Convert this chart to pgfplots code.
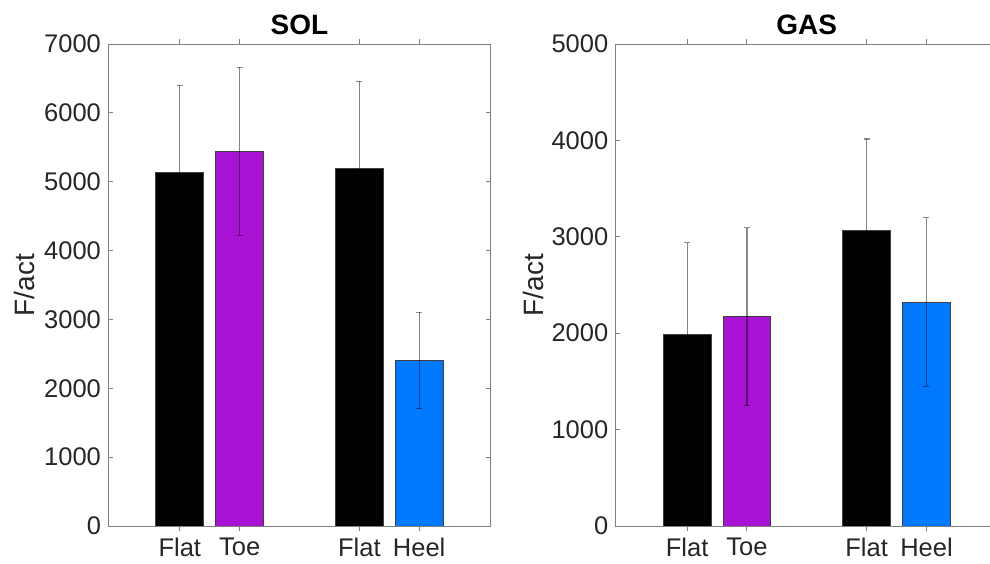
\documentclass[border=0pt]{standalone}
\usepackage{fontspec}
\setmainfont{Liberation Sans}
\usepackage{pgfplots}
\pgfplotsset{compat=1.18}

\definecolor{toecol}{RGB}{168,18,210}
\definecolor{heelcol}{RGB}{0,120,255}
\definecolor{axtext}{RGB}{38,38,38}

\pgfplotsset{
  panel/.style={
    scale only axis, width=191.5pt, height=241pt,
    xmin=-0.2, xmax=6.2, ymin=0,
    xtick={1,2,4,5}, xticklabels={Flat,Toe,Flat,Heel},
    ytick distance=1000,
    tick align=inside, major tick length=2.5pt,
    axis line style={black!50, line width=0.5pt},
    every tick/.style={black!50, line width=0.5pt},
    axis on top,
    ticklabel style={font=\fontsize{12.75}{14}\selectfont, text=axtext},
    /pgf/number format/assume math mode=true,
    /pgf/number format/1000 sep={},
    ylabel={F/act}, ylabel shift=-2pt,
    label style={font=\fontsize{14}{16}\selectfont, text=axtext},
    title style={font=\bfseries\fontsize{14}{16}\selectfont, yshift=-5pt},
    ybar, bar width=0.8, bar shift=0pt,
    anchor=south west,
  },
  eb/.style={
    draw=black!75, line width=0.4pt,
    error bars/.cd, y dir=both, y explicit,
    error bar style={black, opacity=0.45, line width=0.6pt},
    error mark options={black, opacity=0.45, line width=0.6pt, mark size=1.5pt, rotate=90},
  },
}

\begin{document}
\begin{tikzpicture}
\useasboundingbox (0,0) rectangle (495pt,281.5pt);
\clip (0,0) rectangle (495pt,281.5pt);

% SOL
\begin{axis}[panel, at={(54pt,18.5pt)}, ymax=7000, title={SOL}]
  \addplot[fill=black, eb] coordinates {(1,5137) +- (0,1265)};
  \addplot[fill=toecol, eb] coordinates {(2,5442) +- (0,1220)};
  \addplot[fill=black, eb] coordinates {(4,5199) +- (0,1260)};
  \addplot[fill=heelcol, eb] coordinates {(5,2406) +- (0,697)};
\end{axis}

% GAS
\begin{axis}[panel, at={(307.65pt,18.5pt)}, ymax=5000, title={GAS}, ylabel shift=-3pt]
  \addplot[fill=black, eb] coordinates {(1,1989) +- (0,950)};
  \addplot[fill=toecol, eb] coordinates {(2,2172) +- (0,922)};
  \addplot[fill=black, eb] coordinates {(4,3070) +- (0,944)};
  \addplot[fill=heelcol, eb] coordinates {(5,2324) +- (0,873)};
\end{axis}
\end{tikzpicture}
\end{document}
